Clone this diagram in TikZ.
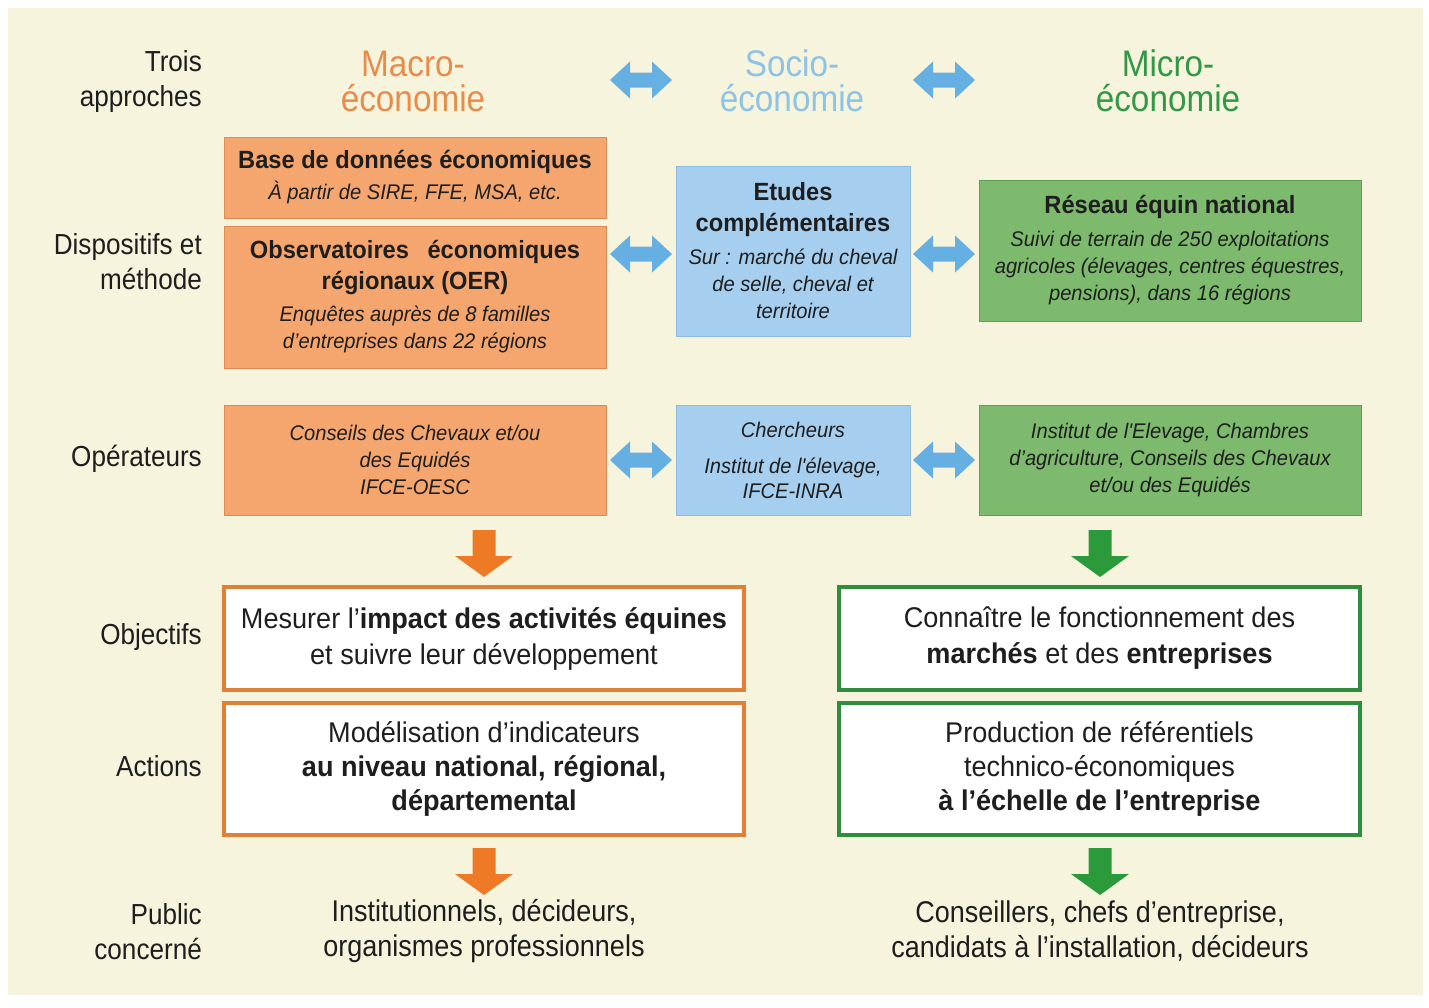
\documentclass[tikz,border=0pt]{standalone}
\usepackage{fontspec}
\setmainfont{Liberation Sans}[FakeStretch=0.9]
\newfontfamily\bxf{Liberation Sans}[FakeStretch=0.95]
\definecolor{cream}{HTML}{F6F4DD}
\definecolor{txt}{HTML}{1E1E1E}
\definecolor{orfill}{HTML}{F5A66E}
\definecolor{orline}{HTML}{DE8A52}
\definecolor{blfill}{HTML}{A6CFEF}
\definecolor{blline}{HTML}{8DBCE3}
\definecolor{grfill}{HTML}{7DBA6E}
\definecolor{grline}{HTML}{62A056}
\definecolor{orframe}{HTML}{E07F36}
\definecolor{grframe}{HTML}{2E8E3E}
\definecolor{heador}{HTML}{E88C4B}
\definecolor{headbl}{HTML}{8CC3E6}
\definecolor{headgr}{HTML}{339846}
\definecolor{arrbl}{HTML}{66AFE2}
\definecolor{arror}{HTML}{EE7A26}
\definecolor{arrgr}{HTML}{2A9A3A}
\newcommand\dblarr[2]{\fill[arrbl,shift={(#1,#2)}] (-31,0) -- (-11,-18.5) -- (-11,-7.5) -- (11,-7.5) -- (11,-18.5) -- (31,0) -- (11,18.5) -- (11,7.5) -- (-11,7.5) -- (-11,18.5) -- cycle;}
\newcommand\downarr[3]{\fill[#3,shift={(#1,#2)}] (-11.5,0) -- (11.5,0) -- (11.5,26) -- (29,26) -- (0,47) -- (-29,26) -- (-11.5,26) -- cycle;}
\tikzset{
  lbl/.style={align=right, anchor=east, text=txt, inner sep=0pt, font=\fontsize{29}{35}\selectfont},
  headtxt/.style={align=center, inner sep=0pt, font=\fontsize{37}{35}\selectfont},
  cbox/.style={align=center, inner sep=0pt, text=txt, line width=1pt, font=\bxf\fontsize{21.2}{27}\selectfont},
  orgbox/.style={cbox, fill=orfill, draw=orline},
  blubox/.style={cbox, fill=blfill, draw=blline},
  grnbox/.style={cbox, fill=grfill, draw=grline},
  frame/.style={align=center, inner sep=0pt, text=txt, fill=white, line width=4pt, minimum height=103pt, font=\bxf\fontsize{28.5}{36}\selectfont},
  pubtxt/.style={align=center, inner sep=0pt, text=txt, font=\fontsize{30}{35}\selectfont}
}
\newcommand\ttl[1]{{\fontsize{24.9}{31}\selectfont\bfseries #1}}
\newcommand\itl[1]{{\itshape #1}}
\begin{document}
\begin{tikzpicture}[x=1pt,y=-1pt]
\useasboundingbox (0,0) rectangle (1429,1007);
\fill[white] (0,0) rectangle (1429,1007);
\fill[cream] (8,8) rectangle (1423,995);

% left labels
\node[lbl] (l1) at (202,81) {Trois\\approches};
\node[lbl] (l2) at (202,262) {Dispositifs et\\méthode};
\node[lbl] (l3) at (202,459) {Opérateurs};
\node[lbl] (l4) at (202,637) {Objectifs};
\node[lbl] (l5) at (202,766) {Actions};
\node[lbl] (l6) at (202,931.5) {Public\\concerné};

% headings
\node[headtxt, text=heador] (hmacro) at (413,81) {Macro-\\économie};
\node[headtxt, text=headbl] (hsocio) at (792,81) {Socio-\\économie};
\node[headtxt, text=headgr] (hmicro) at (1168,81) {Micro-\\économie};
\dblarr{641}{80}
\dblarr{944}{80}

% dispositifs
\node[orgbox, minimum width=382pt, minimum height=81pt] (base) at (415,177.5)
  {\ttl{Base de données économiques}\\[4pt]\itl{À partir de SIRE, FFE, MSA, etc.}};
\node[orgbox, minimum width=382pt, minimum height=142pt] (oer) at (415,297)
  {\ttl{Observatoires\hspace{12pt} économiques}\\[4pt]\ttl{régionaux (OER)}\\[5pt]\itl{Enquêtes auprès de 8 familles}\\\itl{d’entreprises dans 22 régions}};
\node[blubox, minimum width=234pt, minimum height=170pt] (etudes) at (793,251)
  {\ttl{Etudes}\\[4pt]\ttl{complémentaires}\\[6pt]\itl{Sur : marché du cheval}\\\itl{de selle, cheval et}\\\itl{territoire}};
\node[grnbox, minimum width=382pt, minimum height=141pt] (reseau) at (1170,250.5)
  {\ttl{Réseau équin national}\\[6pt]\itl{Suivi de terrain de 250 exploitations}\\\itl{agricoles (élevages, centres équestres,}\\\itl{pensions), dans 16 régions}};
\dblarr{641}{254}
\dblarr{944}{254}

% operateurs
\node[orgbox, minimum width=382pt, minimum height=110pt] (opor) at (415,460)
  {\itl{Conseils des Chevaux et/ou}\\\itl{des Equidés}\\\itl{IFCE-OESC}};
\node[blubox, minimum width=234pt, minimum height=110pt] (opbl) at (793,460)
  {\itl{Chercheurs}\\[9pt]\itl{Institut de l'élevage,}\\[-2pt]\itl{IFCE-INRA}};
\node[grnbox, minimum width=382pt, minimum height=110pt] (opgr) at (1170,460)
  {\itl{Institut de l'Elevage, Chambres}\\\itl{d’agriculture, Conseils des Chevaux}\\\itl{et/ou des Equidés}};
\dblarr{641}{460}
\dblarr{944}{460}

\downarr{484}{530}{arror}
\downarr{1100}{530}{arrgr}

% objectifs
\node[frame, draw=orframe, minimum width=520pt] (objor) at (484,638.5)
  {Mesurer l’\textbf{impact des activités équines}\\et suivre leur développement};
\node[frame, draw=grframe, minimum width=521pt] (objgr) at (1099.5,638.5)
  {Connaître le fonctionnement des\\\textbf{marchés} et des \textbf{entreprises}};

% actions
\node[frame, draw=orframe, minimum width=520pt, minimum height=132pt] (actor) at (484,769)
  {Modélisation d’indicateurs\\[-2pt]\textbf{au niveau national, régional,}\\[-2pt]\textbf{départemental}};
\node[frame, draw=grframe, minimum width=521pt, minimum height=132pt] (actgr) at (1099.5,769)
  {Production de référentiels\\[-2pt]technico-économiques\\[-2pt]\textbf{à l’échelle de l’entreprise}};

\downarr{484}{848}{arror}
\downarr{1100}{848}{arrgr}

% public
\node[pubtxt] (pubor) at (484,931.5) {Institutionnels, décideurs,\\organismes professionnels};
\node[pubtxt] (pubgr) at (1100,931.5) {Conseillers, chefs d’entreprise,\\candidats à l’installation, décideurs};
\end{tikzpicture}
\end{document}
